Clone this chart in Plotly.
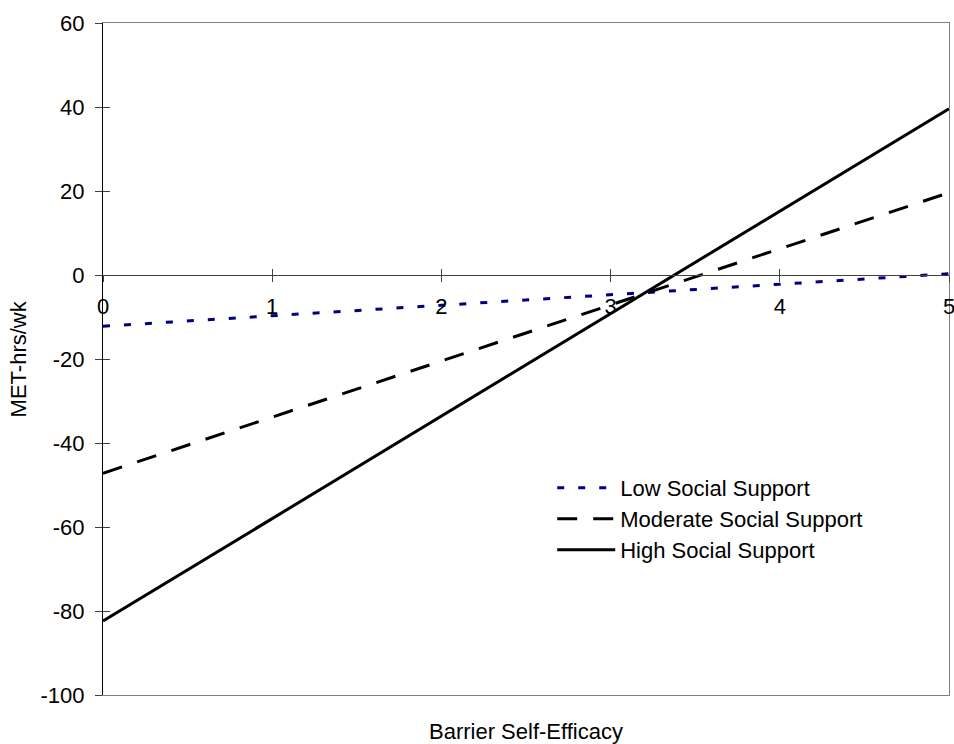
import plotly.graph_objects as go

# Data
x_vals = [0, 5]
low_support = [-12.2, 0.3]
moderate_support = [-47.2, 19.6]
high_support = [-82.4, 39.6]

series_names = ["Low Social Support", "Moderate Social Support", "High Social Support"]
x_ticks = [0, 1, 2, 3, 4, 5]
y_ticks = [-100, -80, -60, -40, -20, 0, 20, 40, 60]

FONT = "Liberation Sans, Arial, sans-serif"
FS = 22

fig = go.Figure()
fig.add_trace(go.Scatter(x=x_vals, y=low_support, mode="lines", name=series_names[0],
                         xaxis="x2", yaxis="y2",
                         line=dict(color="#000080", width=3, dash="7px,14px"), legend="legend"))
fig.add_trace(go.Scatter(x=x_vals, y=moderate_support, mode="lines", name=series_names[1],
                         xaxis="x3", yaxis="y3",
                         line=dict(color="#000000", width=3, dash="20px,16px"), legend="legend2"))
fig.add_trace(go.Scatter(x=x_vals, y=high_support, mode="lines", name=series_names[2],
                         xaxis="x", yaxis="y",
                         line=dict(color="#000000", width=3), legend="legend3"))

zero_pos = (0 - (-100)) / (60 - (-100))

leg_common = dict(x=0.531, xanchor="left", yanchor="middle", bgcolor="rgba(0,0,0,0)",
                  font=dict(family=FONT, size=FS, color="black"), itemwidth=58,
                  borderwidth=0)

fig.update_layout(
    width=954, height=744,
    margin=dict(l=103, r=5, t=23, b=49, autoexpand=False),
    paper_bgcolor="white", plot_bgcolor="white",
    font=dict(family=FONT, size=FS, color="black"),
    showlegend=True,
    legend=dict(y=0.308, **leg_common),
    legend2=dict(y=0.262, **leg_common),
    legend3=dict(y=0.216, **leg_common),
    xaxis=dict(range=[0, 5], showline=True, linecolor="#808080", linewidth=1, mirror=True,
               ticks="", showticklabels=False, showgrid=False, zeroline=False, automargin=False,
               title=dict(text="Barrier Self-Efficacy", standoff=28,
                          font=dict(family=FONT, size=FS, color="black"))),
    xaxis2=dict(range=[0, 5], overlaying="x", anchor="free", position=zero_pos,
                showline=True, linecolor="#404040", linewidth=1,
                ticks="outside", ticklen=6, tickcolor="#404040",
                tickvals=x_ticks, ticktext=[str(v) for v in x_ticks],
                showgrid=False, zeroline=False, ticklabelstandoff=6, automargin=False,
                ticklabeloverflow="allow",
                tickfont=dict(family=FONT, size=FS, color="black")),
    xaxis3=dict(range=[0, 5], overlaying="x", anchor="free", position=zero_pos,
                showline=False, ticks="inside", ticklen=6, tickcolor="#404040",
                tickvals=x_ticks, showticklabels=False, showgrid=False, zeroline=False,
                automargin=False),
    yaxis=dict(range=[-100, 60], showline=True, linecolor="black", linewidth=1,
               ticks="outside", ticklen=7, tickcolor="#404040",
               tickvals=y_ticks, ticktext=[str(v) for v in y_ticks],
               showgrid=False, zeroline=False, ticklabelstandoff=6, automargin=False,
               tickfont=dict(family=FONT, size=FS, color="black")),
    yaxis2=dict(range=[-100, 60], overlaying="y", anchor="x", side="left",
                showline=False, ticks="inside", ticklen=7, tickcolor="#404040",
                tickvals=y_ticks, showticklabels=False, showgrid=False, zeroline=False,
                automargin=False),
    yaxis3=dict(range=[-100, 60], overlaying="y", anchor="x", side="right",
                showline=True, linecolor="#808080", linewidth=1,
                ticks="", showticklabels=False, showgrid=False, zeroline=False,
                automargin=False),
    annotations=[dict(text="MET-hrs/wk", textangle=-90, xref="paper", yref="paper",
                      x=-0.1, y=0.5, xanchor="center", yanchor="middle", showarrow=False,
                      font=dict(family=FONT, size=FS, color="black"))],
)

fig.write_html("out.html", config={"displayModeBar": False},
               post_script="document.body.style.margin='0';")
